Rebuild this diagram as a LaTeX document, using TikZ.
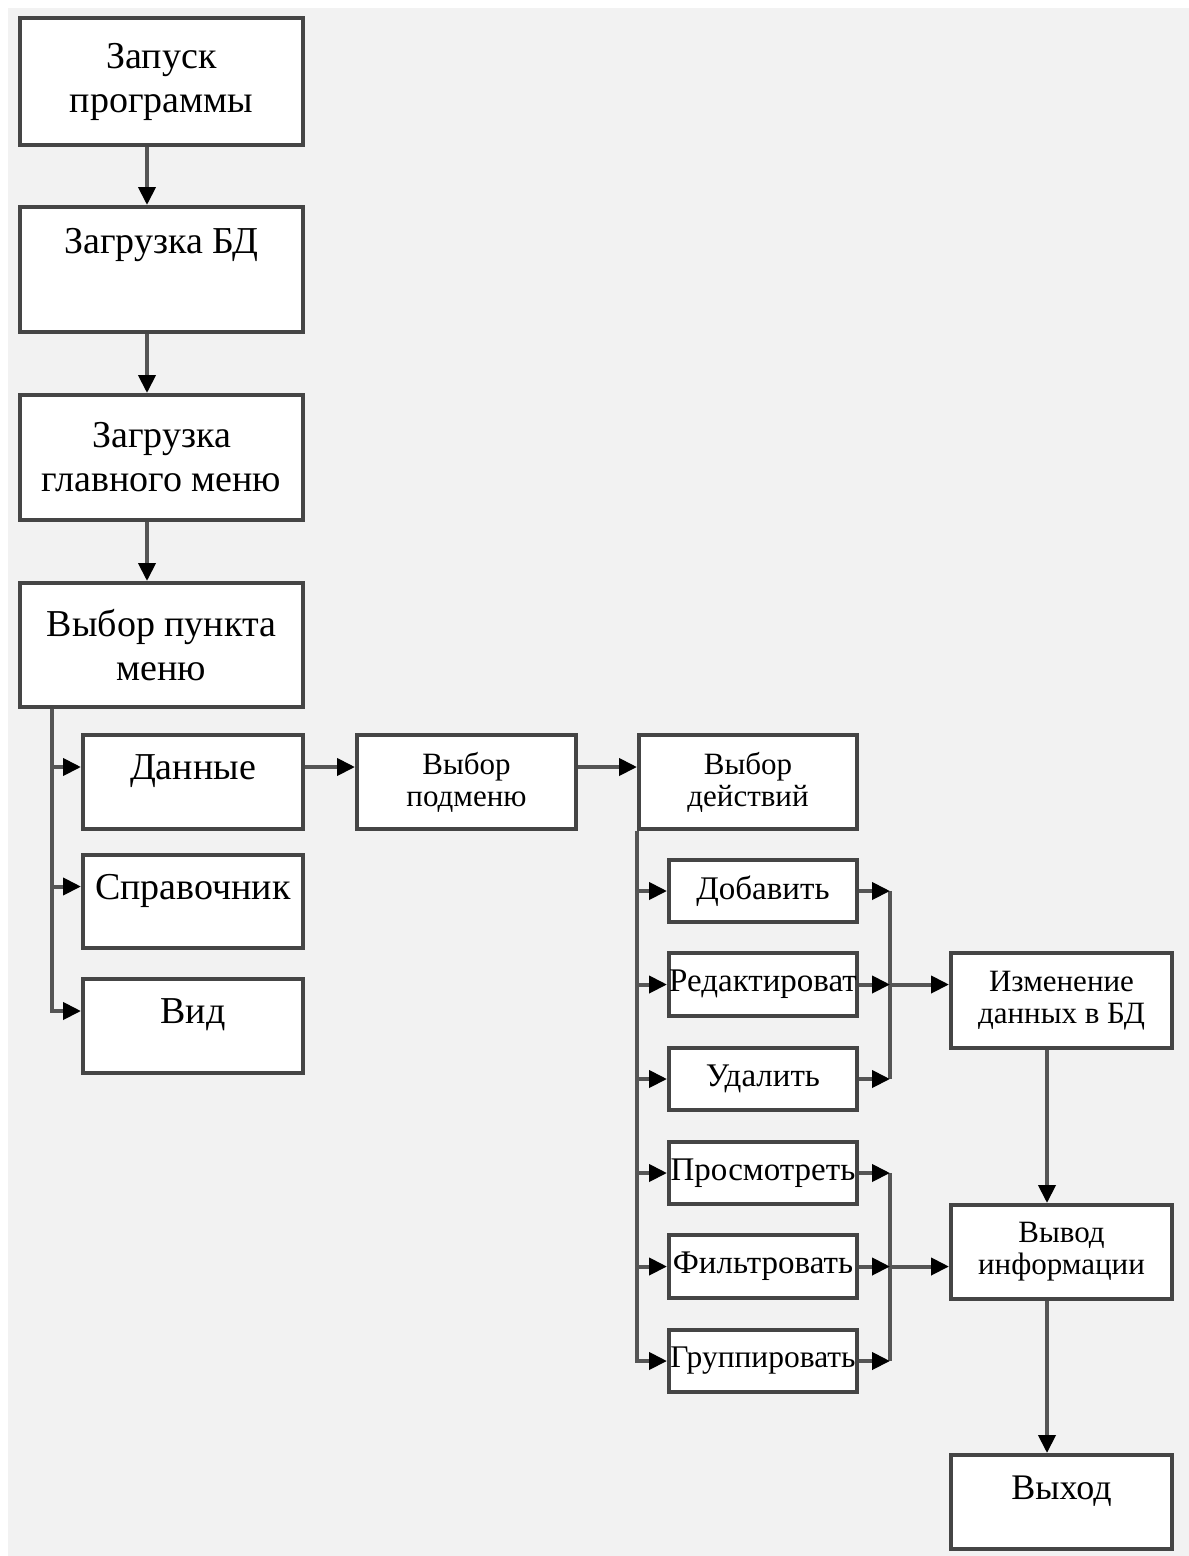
\documentclass[tikz,border=0pt]{standalone}
\usepackage{fontspec}
\setmainfont{Liberation Serif}
\usepackage{tikz}
\usetikzlibrary{arrows.meta}

\definecolor{bggray}{HTML}{F2F2F2}
\definecolor{boxline}{HTML}{454545}
\definecolor{linkline}{HTML}{555555}

\newcommand{\bigfont}{\fontsize{38}{44}\selectfont}
\newcommand{\exitfont}{\fontsize{36}{44}\selectfont}
\newcommand{\smallfont}{\fontsize{31}{32}\selectfont}
\newcommand{\stepfont}{\fontsize{33}{34}\selectfont}

\tikzset{
    block/.style 2 args={draw=boxline, line width=4pt, fill=white, inner sep=0pt,
        align=center, minimum width=#1, minimum height=#2},
    bigblock/.style 2 args={block={#1}{#2}, font=\bigfont},
    smallblock/.style 2 args={block={#1}{#2}, font=\smallfont},
    stepblock/.style={block={188pt}{#1}, font=\stepfont},
    lifted/.style={text depth=#1},
    link/.style={draw=linkline, line width=4pt},
    flow/.style={link, -{Triangle[length=18pt, width=17pt, color=black]}}
}

\begin{document}
\begin{tikzpicture}[x=1pt, y=-1pt]
    \fill[white] (0,0) rectangle (1189,1556);
    \fill[bggray] (8,8) rectangle (1189,1556);
    \useasboundingbox (0,0) rectangle (1189,1556);

    \node[bigblock={283pt}{127pt}] (start) at (161.5,81.5) {Запуск\\программы};
    \node[bigblock={283pt}{125pt}, lifted=57pt] (loaddb) at (161.5,269.5) {Загрузка БД};
    \node[bigblock={283pt}{125pt}] (loadmenu) at (161.5,457.5) {Загрузка\\главного меню};
    \node[bigblock={283pt}{124pt}] (choice) at (161.5,645) {Выбор пункта\\меню};

    \node[bigblock={220pt}{94pt}, lifted=30pt] (data) at (193,782) {Данные};
    \node[bigblock={220pt}{93pt}, lifted=30pt] (refbook) at (193,901.5) {Справочник};
    \node[bigblock={220pt}{94pt}, lifted=30pt] (view) at (193,1026) {Вид};

    \node[smallblock={219pt}{94pt}] (submenu) at (466.5,782) {Выбор\\подменю};
    \node[smallblock={218pt}{94pt}] (action) at (748,782) {Выбор\\действий};

    \node[stepblock=62pt] (add) at (763,891) {Добавить};
    \node[stepblock=63pt] (edit) at (763,984.5) {Редактироват};
    \node[stepblock=62pt] (del) at (763,1079) {Удалить};
    \node[stepblock=62pt] (show) at (763,1173) {Просмотреть};
    \node[stepblock=63pt] (filter) at (763,1266.5) {Фильтровать};
    \node[stepblock=62pt, font=\fontsize{31.5}{34}\selectfont] (group) at (763,1361) {Группировать};

    \node[smallblock={221pt}{95pt}] (change) at (1061.5,1000.5) {Изменение\\данных в БД};
    \node[smallblock={221pt}{94pt}] (output) at (1061.5,1252) {Вывод\\информации};
    \node[block={221pt}{94pt}, font=\exitfont, lifted=28pt] (quit) at (1061.5,1502) {Выход};

    \draw[flow] ([xshift=-14.5pt]start.south) -- ([xshift=-14.5pt]loaddb.north);
    \draw[flow] ([xshift=-14.5pt]loaddb.south) -- ([xshift=-14.5pt]loadmenu.north);
    \draw[flow] ([xshift=-14.5pt]loadmenu.south) -- ([xshift=-14.5pt]choice.north);

    \foreach \item in {data, refbook, view}
        \draw[flow] ([xshift=-109.5pt]choice.south) |- ([yshift=15pt]\item.west);

    \draw[flow] ([yshift=15pt]data.east) -- ([yshift=15pt]submenu.west);
    \draw[flow] ([yshift=15pt]submenu.east) -- ([yshift=15pt]action.west);

    \foreach \item in {add, edit, del, show, filter, group}
        \draw[flow] (action.south west) |- (\item.west);

    \path (edit.east) ++(31pt,0) coordinate (busA);
    \path (filter.east) ++(31pt,0) coordinate (busB);
    \draw[link] (add.east -| busA) -- (del.east -| busA);
    \draw[link] (show.east -| busB) -- (group.east -| busB);
    \foreach \item in {add, edit, del}
        \draw[flow] (\item.east) -- (\item.east -| busA);
    \foreach \item in {show, filter, group}
        \draw[flow] (\item.east) -- (\item.east -| busB);
    \draw[flow] (busA) -- (busA -| change.west);
    \draw[flow] (busB) -- (busB -| output.west);

    \draw[flow] ([xshift=-14.5pt]change.south) -- ([xshift=-14.5pt]output.north);
    \draw[flow] ([xshift=-14.5pt]output.south) -- ([xshift=-14.5pt]quit.north);
\end{tikzpicture}
\end{document}
